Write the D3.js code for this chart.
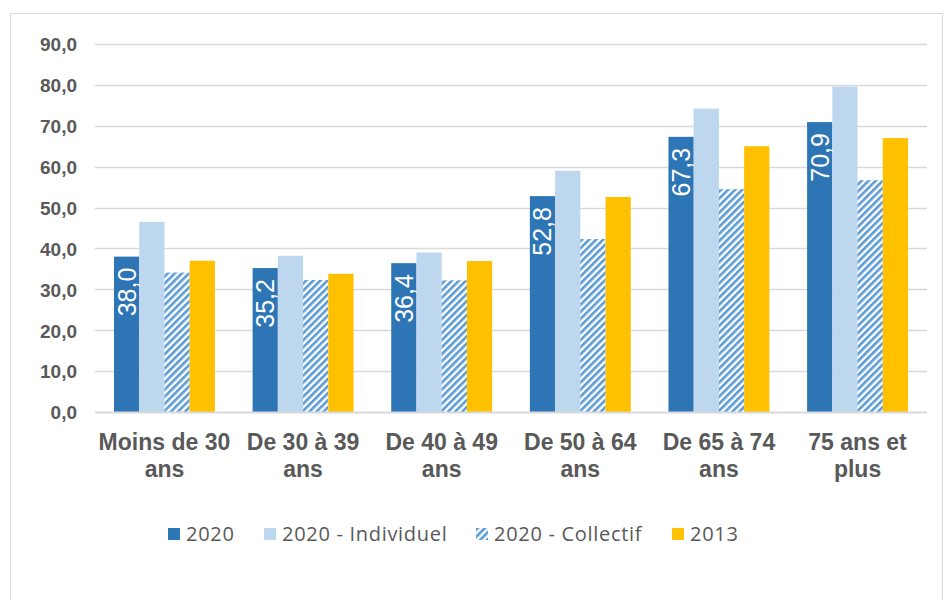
<!DOCTYPE html>
<html>
<head>
<meta charset="utf-8">
<script src="https://cdn.jsdelivr.net/npm/d3@7"></script>
<style>
  html, body { margin: 0; padding: 0; background: #fff; }
  svg { display: block; }
</style>
</head>
<body>
<svg id="chart" width="945" height="600"></svg>
<script>
// Age groups (two-line labels)
const categories = [
  ["Moins de 30", "ans"],
  ["De 30 à 39", "ans"],
  ["De 40 à 49", "ans"],
  ["De 50 à 64", "ans"],
  ["De 65 à 74", "ans"],
  ["75 ans et", "plus"]
];
const seriesNames = ["2020", "2020 - Individuel", "2020 - Collectif", "2013"];
const values2020 = [38.0, 35.2, 36.4, 52.8, 67.3, 70.9];
const valuesIndividuel = [46.5, 38.2, 39.0, 59.0, 74.2, 79.6];
const valuesCollectif = [34.1, 32.3, 32.2, 42.3, 54.5, 56.7];
const values2013 = [37.0, 33.8, 36.9, 52.6, 65.0, 67.0];
const yTicks = [0, 10, 20, 30, 40, 50, 60, 70, 80, 90];

const seriesValues = [values2020, valuesIndividuel, valuesCollectif, values2013];
const colors = ["#2E75B6", "#BDD7EE", "url(#hatch)", "#FFC000"];
const fmt = d => d3.format(".1f")(d).replace(".", ",");

const svg = d3.select("#chart");

// Hatch for the "Collectif" series
const defs = svg.append("defs");
const pat = defs.append("pattern")
  .attr("id", "hatch")
  .attr("patternUnits", "userSpaceOnUse")
  .attr("width", 5).attr("height", 5)
  .attr("patternTransform", "rotate(45)");
pat.append("rect").attr("width", 5).attr("height", 5).attr("fill", "#fff");
pat.append("rect").attr("x", 0).attr("y", 0).attr("width", 2.6).attr("height", 5).attr("fill", "#5B9BD5");

// outer frame
svg.append("rect")
  .attr("x", 10.5).attr("y", 13.5)
  .attr("width", 932).attr("height", 600)
  .attr("fill", "none").attr("stroke", "#d9d9d9").attr("stroke-width", 1);

const plot = { left: 95, right: 927, top: 44, bottom: 412 };

const x = d3.scaleBand()
  .domain(d3.range(categories.length))
  .range([plot.left, plot.right])
  .paddingInner(0.272).paddingOuter(0.137);

const xs = d3.scaleBand()
  .domain(d3.range(seriesNames.length))
  .range([0, x.bandwidth()]);

const y = d3.scaleLinear().domain([0, 90]).range([plot.bottom, plot.top]);

// gridlines
svg.append("g")
  .selectAll("line")
  .data(yTicks.filter(d => d > 0))
  .join("line")
  .attr("x1", plot.left).attr("x2", plot.right)
  .attr("y1", d => Math.round(y(d)) + 0.5).attr("y2", d => Math.round(y(d)) + 0.5)
  .attr("stroke", "#d9d9d9").attr("stroke-width", 1.3);

// y axis labels
const yAxis = svg.append("g")
  .attr("transform", `translate(${plot.left - 18},0)`)
  .call(d3.axisLeft(y).tickValues(yTicks).tickSize(0).tickPadding(0).tickFormat(fmt));
yAxis.select(".domain").remove();
yAxis.selectAll("text")
  .attr("font-family", "Liberation Sans, Arial, sans-serif")
  .attr("font-weight", "bold")
  .attr("font-size", 19)
  .attr("dy", "0.36em")
  .attr("fill", "#595959");

// bars
const groups = svg.append("g")
  .selectAll("g")
  .data(categories.map((c, i) => i))
  .join("g")
  .attr("transform", i => `translate(${x(i)},0)`);

groups.selectAll("rect")
  .data(i => seriesValues.map((vals, s) => ({ s, v: vals[i] })))
  .join("rect")
  .attr("x", d => xs(d.s))
  .attr("width", xs.bandwidth())
  .attr("y", d => y(d.v))
  .attr("height", d => y(0) - y(d.v))
  .attr("fill", d => colors[d.s]);

// value labels inside the 2020 bars, rotated
groups.append("text")
  .attr("transform", i => `translate(${xs(0) + xs.bandwidth() / 2 + 9},${y(values2020[i]) + 11}) rotate(-90)`)
  .attr("text-anchor", "end")
  .attr("font-family", "Liberation Sans, Arial, sans-serif")
  .attr("font-size", 25)
  .attr("fill", "#fff")
  .text(i => fmt(values2020[i]));

// baseline
svg.append("line")
  .attr("x1", plot.left).attr("x2", plot.right)
  .attr("y1", y(0) + 0.5).attr("y2", y(0) + 0.5)
  .attr("stroke", "#d9d9d9").attr("stroke-width", 2);

// category labels
const xl = svg.append("g");
categories.forEach((lines, i) => {
  const cx = x(i) + x.bandwidth() / 2;
  const t = xl.append("text")
    .attr("x", cx)
    .attr("y", 450)
    .attr("text-anchor", "middle")
    .attr("font-family", "Liberation Sans, Arial, sans-serif")
    .attr("font-weight", "bold")
    .attr("font-size", 23)
    .attr("fill", "#595959");
  lines.forEach((ln, k) => {
    t.append("tspan")
      .attr("x", cx)
      .attr("dy", k === 0 ? 0 : 27)
      .text(ln);
  });
});

// legend
const legendItems = [
  { name: seriesNames[0], fill: colors[0], x: 168 },
  { name: seriesNames[1], fill: colors[1], x: 264 },
  { name: seriesNames[2], fill: colors[2], x: 476 },
  { name: seriesNames[3], fill: colors[3], x: 672 }
];
const lg = svg.append("g");
legendItems.forEach(it => {
  lg.append("rect")
    .attr("x", it.x).attr("y", 528)
    .attr("width", 12).attr("height", 12)
    .attr("fill", it.fill);
  lg.append("text")
    .attr("x", it.x + 18).attr("y", 541)
    .attr("font-family", "Open Sans, sans-serif")
    .attr("font-size", 20)
    .attr("letter-spacing", 0.7)
    .attr("fill", "#595959")
    .text(it.name);
});
</script>
</body>
</html>
